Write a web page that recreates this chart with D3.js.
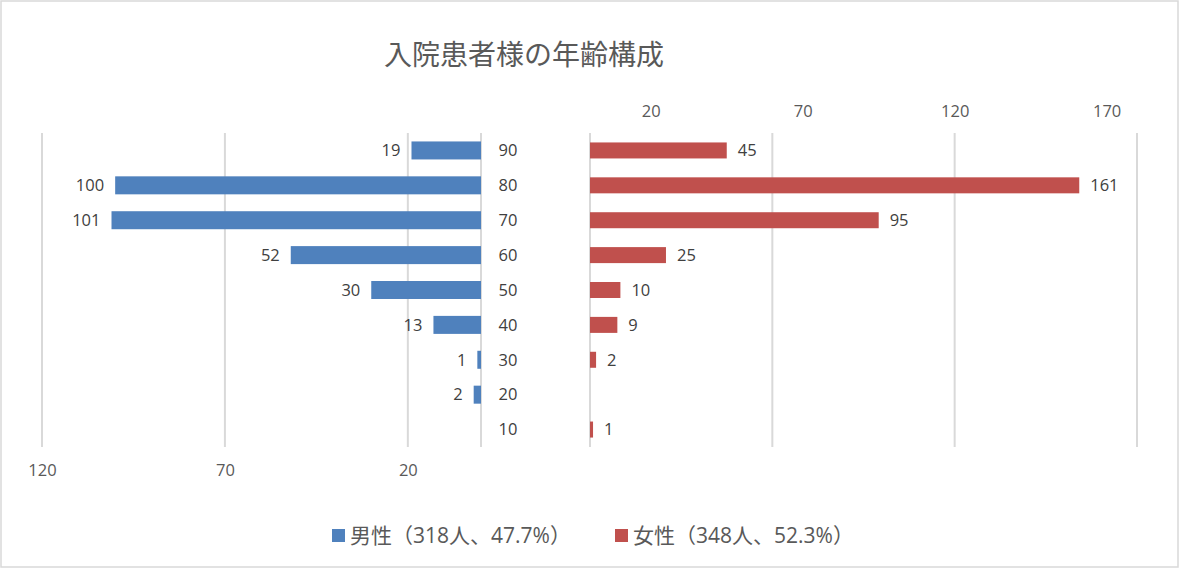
<!DOCTYPE html>
<html>
<head>
<meta charset="utf-8">
<script src="https://cdn.jsdelivr.net/npm/d3@7"></script>
<style>
  body { margin: 0; background: #fff; }
  svg text { font-family: "Open Sans", "Noto Sans CJK JP", sans-serif; }
</style>
</head>
<body>
<svg id="chart" width="1180" height="569"></svg>
<script>
(function() {

// age groups, top to bottom
var ages = ["90", "80", "70", "60", "50", "40", "30", "20", "10"];
var male = [19, 100, 101, 52, 30, 13, 1, 2, 0];
var female = [45, 161, 95, 25, 10, 9, 2, 0, 1];

var maleTicks = [120, 70, 20];
var maleGrid = [120, 70, 20, 0];
var femaleTicks = [20, 70, 120, 170];
var femaleGrid = [0, 60, 120, 180];

var title = "入院患者様の年齢構成";
var legendNames = ["男性（318人、47.7%）", "女性（348人、52.3%）"];

var blue = "#4F81BD";
var red = "#C0504D";
var gridColor = "#d9d9d9";
var textColor = "#595959";

var svg = d3.select("#chart");

svg.append("rect")
    .attr("x", 1).attr("y", 1)
    .attr("width", 1177).attr("height", 566)
    .attr("fill", "#fff")
    .attr("stroke", gridColor)
    .attr("stroke-width", 1.5);

var xMale = d3.scaleLinear().domain([0, 120]).range([481, 42]);
var xFemale = d3.scaleLinear().domain([0, 180]).range([590, 1137]);
var y = d3.scaleBand().domain(ages).range([133, 447]);

var gridTop = 133, gridBottom = 447;

// gridlines
svg.append("g").selectAll("line")
    .data(maleGrid)
    .join("line")
    .attr("x1", d => xMale(d)).attr("x2", d => xMale(d))
    .attr("y1", gridTop).attr("y2", gridBottom)
    .attr("stroke", gridColor).attr("stroke-width", 2);

svg.append("g").selectAll("line")
    .data(femaleGrid)
    .join("line")
    .attr("x1", d => xFemale(d)).attr("x2", d => xFemale(d))
    .attr("y1", gridTop).attr("y2", gridBottom)
    .attr("stroke", gridColor).attr("stroke-width", 2);

// axes labels
var maleAxis = svg.append("g")
    .attr("transform", "translate(0,464)")
    .call(d3.axisBottom(xMale).tickValues(maleTicks).tickSize(0).tickPadding(0));
maleAxis.select(".domain").remove();

var femaleAxis = svg.append("g")
    .attr("transform", "translate(0,117)")
    .call(d3.axisTop(xFemale).tickValues(femaleTicks).tickSize(0).tickPadding(0));
femaleAxis.select(".domain").remove();

svg.selectAll(".tick text")
    .attr("fill", textColor)
    .style("font-family", "'Open Sans', 'Noto Sans CJK JP', sans-serif")
    .style("font-size", "16.5px");

// bars
var maleData = ages.map((a, i) => ({age: a, v: male[i]}));
var femaleData = ages.map((a, i) => ({age: a, v: female[i]}));

svg.append("g").selectAll("rect")
    .data(maleData.filter(d => d.v > 0))
    .join("rect")
    .attr("x", d => xMale(d.v))
    .attr("width", d => xMale(0) - xMale(d.v))
    .attr("y", d => y(d.age) + y.bandwidth() / 2 - 9)
    .attr("height", 18)
    .attr("fill", blue);

svg.append("g").selectAll("rect")
    .data(femaleData.filter(d => d.v > 0))
    .join("rect")
    .attr("x", xFemale(0))
    .attr("width", d => xFemale(d.v) - xFemale(0))
    .attr("y", d => y(d.age) + y.bandwidth() / 2 - 8)
    .attr("height", 16)
    .attr("fill", red);

// data labels
svg.append("g").selectAll("text")
    .data(maleData.filter(d => d.v > 0))
    .join("text")
    .attr("x", d => xMale(d.v) - 11)
    .attr("y", d => y(d.age) + y.bandwidth() / 2)
    .attr("dy", "0.35em")
    .attr("text-anchor", "end")
    .attr("fill", "#404040")
    .style("font-size", "16.5px")
    .text(d => d.v);

svg.append("g").selectAll("text")
    .data(femaleData.filter(d => d.v > 0))
    .join("text")
    .attr("x", d => xFemale(d.v) + 11)
    .attr("y", d => y(d.age) + y.bandwidth() / 2)
    .attr("dy", "0.35em")
    .attr("fill", "#404040")
    .style("font-size", "16.5px")
    .text(d => d.v);

// category labels
svg.append("g").selectAll("text")
    .data(ages)
    .join("text")
    .attr("x", 508)
    .attr("y", d => y(d) + y.bandwidth() / 2)
    .attr("dy", "0.35em")
    .attr("text-anchor", "middle")
    .attr("fill", "#404040")
    .style("font-size", "16.5px")
    .text(d => d);

// title
svg.append("text")
    .attr("x", 524)
    .attr("y", 65)
    .attr("text-anchor", "middle")
    .attr("fill", textColor)
    .style("font-family", "'Noto Sans CJK JP', sans-serif")
    .style("font-size", "28px")
    .text(title);

// legend
var legend = svg.append("g").selectAll("g")
    .data(legendNames)
    .join("g")
    .attr("transform", (d, i) => "translate(" + (i == 0 ? 332 : 615) + ",535)");

legend.append("rect")
    .attr("x", 0).attr("y", -6)
    .attr("width", 13).attr("height", 13)
    .attr("fill", (d, i) => i == 0 ? blue : red);

legend.append("text")
    .attr("x", 18)
    .attr("dy", "0.36em")
    .attr("fill", textColor)
    .style("font-size", "21px")
    .text(d => d);

})()
</script>
</body>
</html>
